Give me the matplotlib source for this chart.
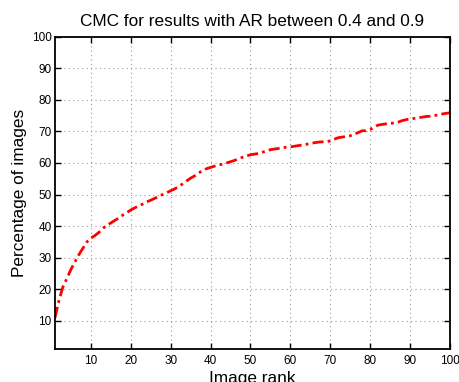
import matplotlib
matplotlib.use("Agg")
import matplotlib.pyplot as plt
import numpy as np

plt.rcParams['font.family'] = ['Liberation Sans', 'DejaVu Sans']

# Cumulative match characteristic: percentage of images matched within each rank
ranks = list(range(1, 101))
percentages = [
    11.0, 16.5, 20.8, 23.5, 26.3, 28.7, 31.0, 33.0, 35.0, 36.2,
    37.0, 38.0, 39.3, 40.3, 41.0, 41.8, 42.6, 43.5, 44.3, 45.1,
    45.8, 46.4, 47.0, 47.7, 48.2, 48.8, 49.4, 50.0, 50.6, 51.2,
    51.8, 52.5, 53.4, 54.3, 55.2, 55.9, 56.8, 57.6, 58.2, 58.6,
    59.0, 59.4, 59.6, 60.0, 60.4, 60.8, 61.3, 61.8, 62.2, 62.6,
    62.8, 63.0, 63.4, 63.8, 64.2, 64.4, 64.6, 64.8, 65.0, 65.1,
    65.3, 65.5, 65.7, 65.9, 66.2, 66.4, 66.6, 66.7, 66.7, 67.0,
    67.5, 68.0, 68.2, 68.4, 68.6, 69.2, 69.6, 70.2, 70.2, 70.6,
    71.3, 72.0, 72.2, 72.4, 72.6, 72.6, 72.9, 73.4, 73.7, 74.0,
    74.1, 74.3, 74.5, 74.7, 74.8, 75.0, 75.2, 75.5, 75.7, 75.9,
]
x_ticks = [10, 20, 30, 40, 50, 60, 70, 80, 90, 100]
y_ticks = [10, 20, 30, 40, 50, 60, 70, 80, 90, 100]

fig = plt.figure(figsize=(4.59, 3.82), dpi=100)
ax = fig.add_axes([0.1198, 0.0856, 0.8602, 0.8184])

ax.plot(ranks, percentages, color='red', linestyle=(0, (4, 1.5, 1, 1.5)),
        linewidth=2.0)

ax.set_xlim(1, 100)
ax.set_ylim(1, 100)
ax.set_xticks(x_ticks)
ax.set_yticks(y_ticks)
ax.tick_params(direction='in', length=4, width=1, top=True, right=True,
               labelsize=8.5)
ax.tick_params(axis='y', pad=2.5)
ax.tick_params(axis='x', pad=4)
ax.grid(True, color='#999999', linestyle=(0, (1, 3)), linewidth=0.8)
for s in ax.spines.values():
    s.set_linewidth(1.3)

ax.set_title('CMC for results with AR between 0.4 and 0.9', fontsize=12.4, pad=8)
ax.set_ylabel('Percentage of images', fontsize=12.4, labelpad=3)
ax.set_xlabel('Image rank', fontsize=12.4, labelpad=3)

fig.savefig('out.png', dpi=100)
